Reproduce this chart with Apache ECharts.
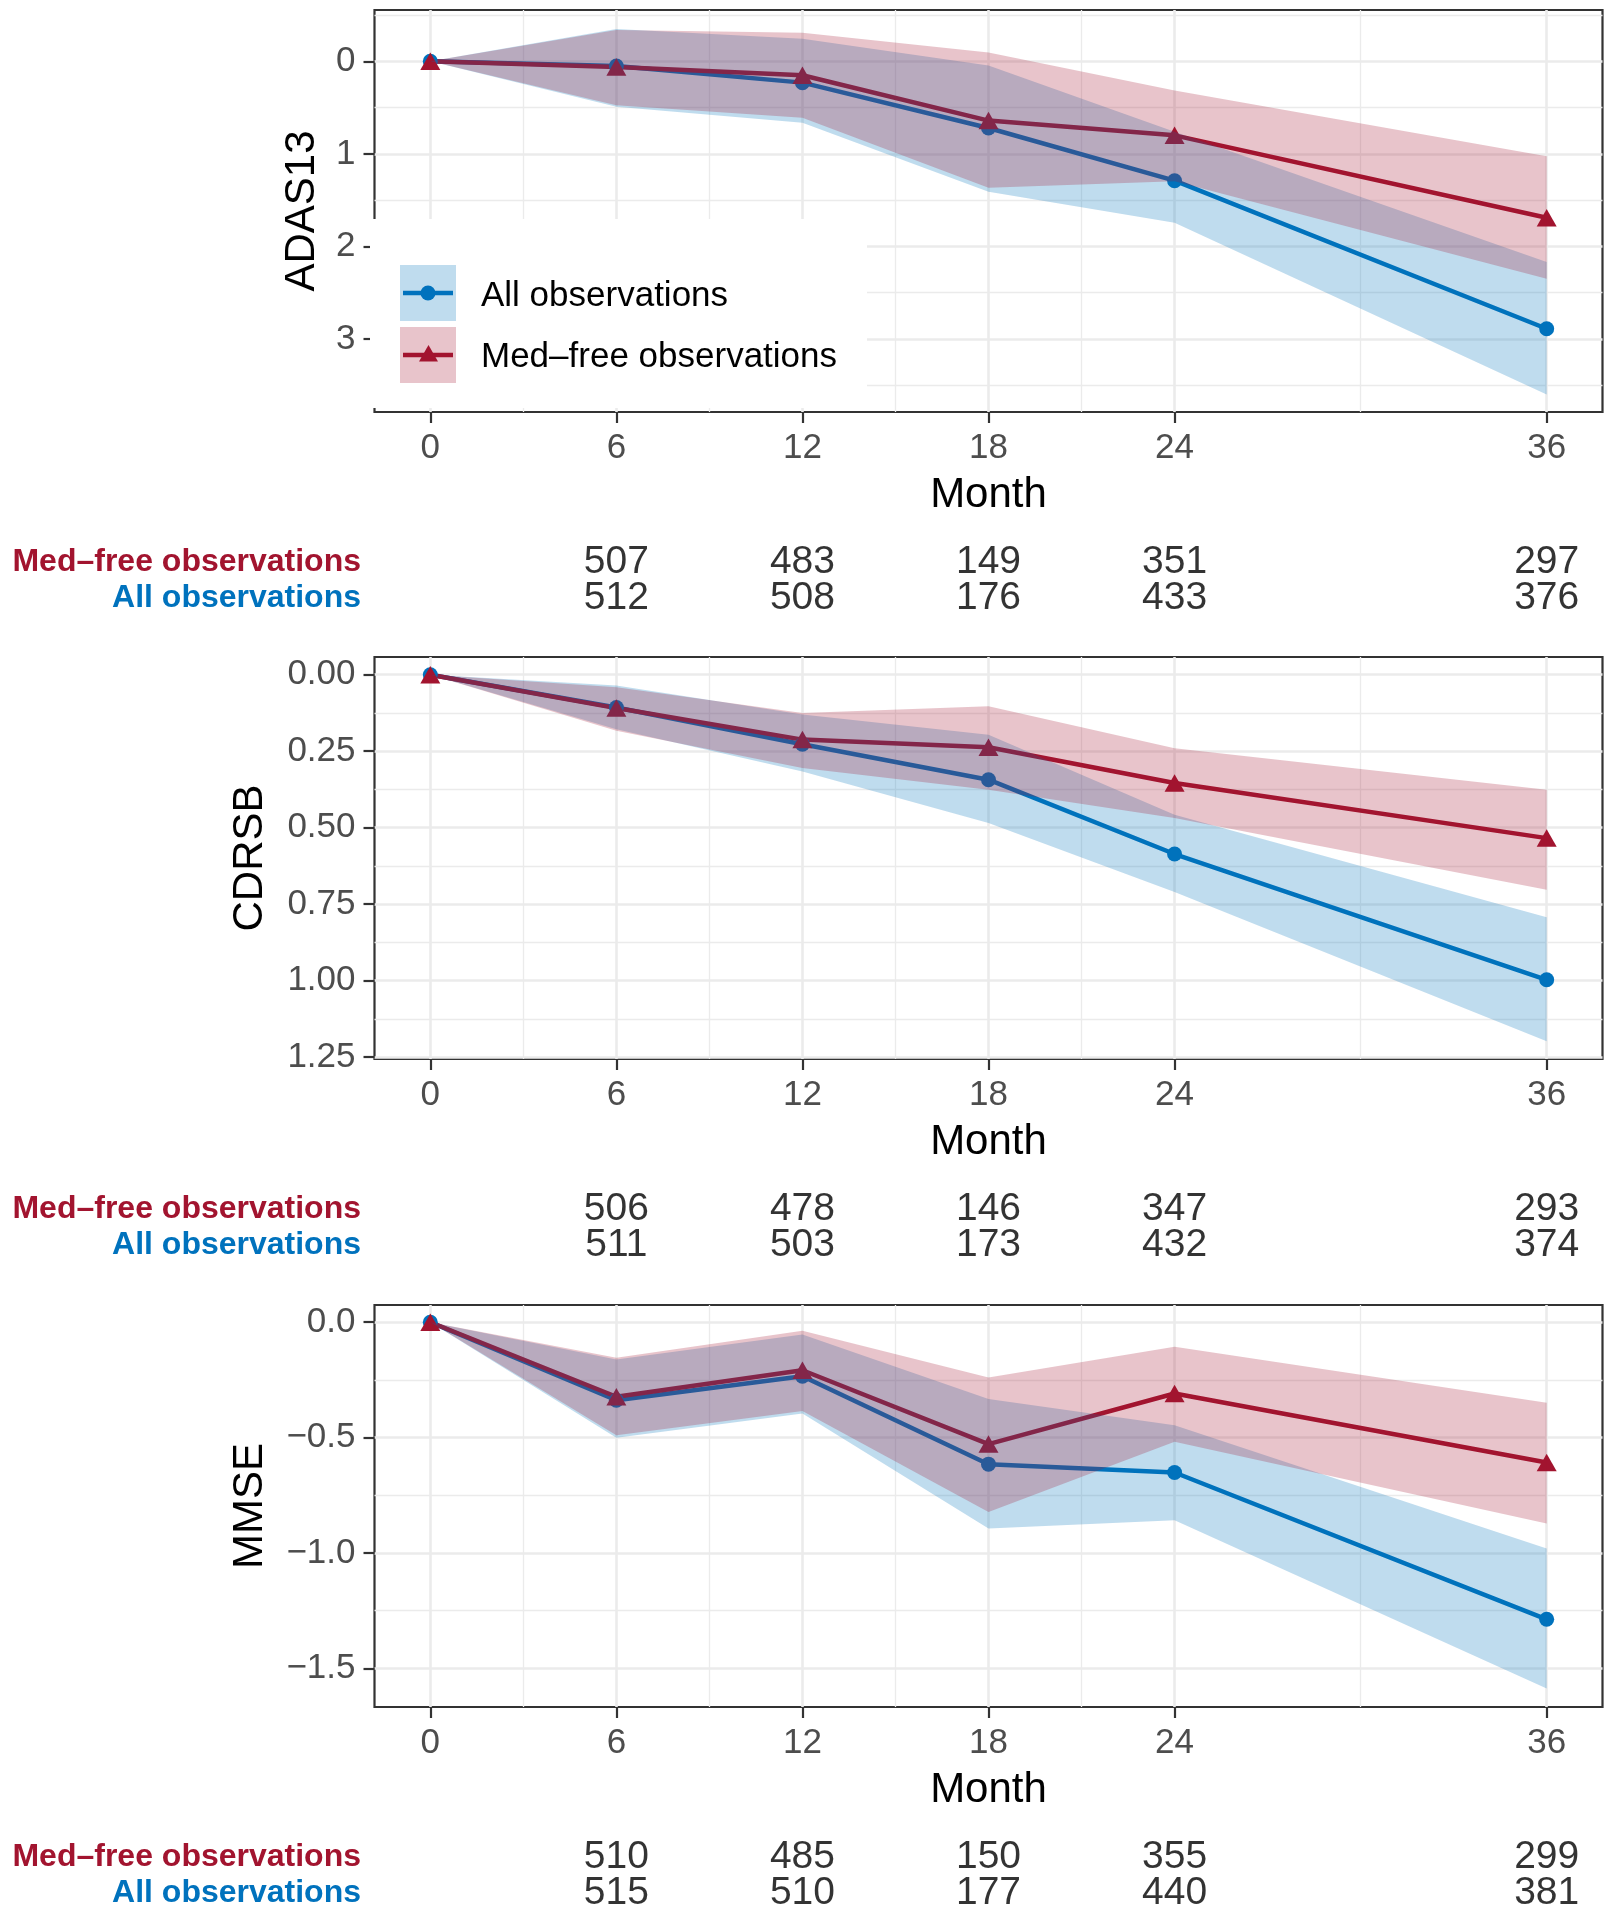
<!DOCTYPE html>
<html>
<head>
<meta charset="utf-8">
<title>Change from baseline by month</title>
<script src="https://cdn.jsdelivr.net/npm/echarts@6/dist/echarts.min.js"></script>
<style>
  html, body { margin: 0; padding: 0; background: #fff; }
  #chart { width: 1615px; height: 1920px; }
</style>
</head>
<body>
<div id="chart"></div>
<script>
// ---- values ----
const months = [0, 6, 12, 18, 24, 36];
const countMonths = [6, 12, 18, 24, 36];
const xTicks = [0, 6, 12, 18, 24, 36];
const xMinorTicks = [3, 9, 15, 21, 30];
const tableRows = ["All observations", "Med\u2013free observations"];

// ADAS13 (axis drawn reversed)
const adasAllMean = [0, 0.05, 0.23, 0.72, 1.29, 2.89];
const adasAllLow  = [0, -0.35, -0.245, 0.045, 0.76, 2.17];
const adasAllHigh = [0, 0.49, 0.665, 1.41, 1.745, 3.60];
const adasMedMean = [0, 0.06, 0.15, 0.64, 0.80, 1.69];
const adasMedLow  = [0, -0.34, -0.31, -0.095, 0.315, 1.025];
const adasMedHigh = [0, 0.475, 0.61, 1.365, 1.295, 2.35];
const adasTicks = [0, 1, 2, 3];
const adasMinorTicks = [-0.5, 0.5, 1.5, 2.5, 3.5];
const adasMedCounts = [507, 483, 149, 351, 297];
const adasAllCounts = [512, 508, 176, 433, 376];

// CDRSB (axis drawn reversed)
const cdrAllMean = [0, 0.107, 0.227, 0.343, 0.586, 0.997];
const cdrAllLow  = [0, 0.035, 0.13, 0.196, 0.458, 0.793];
const cdrAllHigh = [0, 0.178, 0.316, 0.485, 0.71, 1.198];
const cdrMedMean = [0, 0.109, 0.212, 0.237, 0.354, 0.534];
const cdrMedLow  = [0, 0.041, 0.125, 0.103, 0.24, 0.376];
const cdrMedHigh = [0, 0.183, 0.305, 0.376, 0.468, 0.703];
const cdrTicks = [0, 0.25, 0.5, 0.75, 1, 1.25];
const cdrMinorTicks = [0.125, 0.375, 0.625, 0.875, 1.125];
const cdrMedCounts = [506, 478, 146, 347, 293];
const cdrAllCounts = [511, 503, 173, 432, 374];

// MMSE
const mmseAllMean = [0, -0.338, -0.234, -0.615, -0.651, -1.287];
const mmseAllLow  = [0, -0.50, -0.395, -0.894, -0.858, -1.587];
const mmseAllHigh = [0, -0.162, -0.053, -0.333, -0.446, -0.98];
const mmseMedMean = [0, -0.323, -0.208, -0.528, -0.309, -0.608];
const mmseMedLow  = [0, -0.49, -0.385, -0.822, -0.518, -0.872];
const mmseMedHigh = [0, -0.154, -0.037, -0.239, -0.106, -0.349];
const mmseTicks = [0, -0.5, -1, -1.5];
const mmseMinorTicks = [-0.25, -0.75, -1.25];
const mmseMedCounts = [510, 485, 150, 355, 299];
const mmseAllCounts = [515, 510, 177, 440, 381];

// ---- styling ----
const FONT = "Liberation Sans, Arial, Helvetica, sans-serif";
const BLUE = "#0072BD";
const RED = "#A2142F";
const BLUE_FILL = "rgba(0,114,189,0.25)";
const RED_FILL = "rgba(162,20,47,0.25)";
const GRID_COL = "#EBEBEB";
const INK = "#333333";

const PLOT_LEFT = 374.5;
const PLOT_WIDTH = 1228;
const X_MIN = -1.8, X_MAX = 37.8;

const panels = [
  {
    name: "ADAS13", top: 10, min: -0.555, max: 3.79, inverse: true, nameGap: 51,
    ticks: adasTicks, minor: adasMinorTicks, fmt: v => String(v),
    all: [adasAllMean, adasAllLow, adasAllHigh],
    med: [adasMedMean, adasMedLow, adasMedHigh],
    counts: [adasAllCounts, adasMedCounts]
  },
  {
    name: "CDRSB", top: 657, min: -0.058, max: 1.256, inverse: true, nameGap: 103,
    ticks: cdrTicks, minor: cdrMinorTicks, fmt: v => v.toFixed(2),
    all: [cdrAllMean, cdrAllLow, cdrAllHigh],
    med: [cdrMedMean, cdrMedLow, cdrMedHigh],
    counts: [cdrAllCounts, cdrMedCounts]
  },
  {
    name: "MMSE", top: 1305, min: -1.667, max: 0.0746, inverse: false, nameGap: 103,
    ticks: mmseTicks, minor: mmseMinorTicks, fmt: v => (v === 0 ? "0.0" : "\u2212" + Math.abs(v).toFixed(1)),
    all: [mmseAllMean, mmseAllLow, mmseAllHigh],
    med: [mmseMedMean, mmseMedLow, mmseMedHigh],
    counts: [mmseAllCounts, mmseMedCounts]
  }
];
const PANEL_H = 402;

const grids = [], xAxes = [], yAxes = [], series = [];

// ribbon polygon drawn once through the axis scales
function ribbon(low, high, fill, xi, yi) {
  return {
    type: "custom",
    xAxisIndex: xi,
    yAxisIndex: yi,
    silent: true,
    z: 5,
    data: months.map((m, k) => [m, low[k], high[k]]),
    encode: { x: 0, y: [1, 2] },
    renderItem: (params, api) => {
      if (params.dataIndex !== 0) return null;
      const upper = months.map((m, k) => api.coord([m, high[k]]));
      const lower = months.map((m, k) => api.coord([m, low[k]])).reverse();
      return { type: "polygon", shape: { points: upper.concat(lower) }, style: { fill: fill } };
    }
  };
}

function meanLine(mean, color, symbol, size, xi, yi) {
  return {
    type: "line",
    xAxisIndex: xi,
    yAxisIndex: yi,
    z: 3,
    data: months.map((m, k) => [m, mean[k]]),
    symbol: symbol,
    symbolSize: size,
    showSymbol: true,
    lineStyle: { color: color, width: 4.5 },
    itemStyle: { color: color },
    emphasis: { disabled: true }
  };
}

panels.forEach((p, i) => {
  // plot panel
  grids.push({
    left: PLOT_LEFT, width: PLOT_WIDTH, top: p.top, height: PANEL_H,
    show: true, borderColor: INK, borderWidth: 2.2, backgroundColor: "#fff",
    outerBoundsMode: "none", containLabel: false
  });

  xAxes.push({
    type: "value", gridIndex: i, min: X_MIN, max: X_MAX, position: "bottom",
    axisLine: { show: false, onZero: false },
    axisTick: { show: true, length: 11, customValues: xTicks, lineStyle: { color: INK, width: 2.2 } },
    axisLabel: {
      customValues: xTicks, margin: 19, fontSize: 35, lineHeight: 35,
      color: "#4D4D4D", fontFamily: FONT
    },
    splitLine: { show: true, lineStyle: { color: GRID_COL, width: 2.6 } },
    name: "Month", nameLocation: "middle", nameGap: 62, nameMoveOverlap: false,
    nameTextStyle: { fontSize: 42, lineHeight: 42, color: "#000", fontFamily: FONT }
  });
  xAxes.push({
    type: "value", gridIndex: i, min: X_MIN, max: X_MAX,
    axisLine: { show: false, onZero: false },
    axisTick: { show: false, customValues: xMinorTicks },
    axisLabel: { show: false, customValues: xMinorTicks },
    splitLine: { show: true, lineStyle: { color: GRID_COL, width: 1.3 } }
  });

  yAxes.push({
    type: "value", gridIndex: i, min: p.min, max: p.max, inverse: p.inverse, position: "left",
    axisLine: { show: false, onZero: false },
    axisTick: { show: true, length: 11, customValues: p.ticks, lineStyle: { color: INK, width: 2.2 } },
    axisLabel: {
      customValues: p.ticks, margin: 19, fontSize: 35, lineHeight: 35,
      color: "#4D4D4D", fontFamily: FONT, formatter: p.fmt
    },
    splitLine: { show: true, lineStyle: { color: GRID_COL, width: 2.6 } },
    name: p.name, nameLocation: "middle", nameGap: p.nameGap, nameMoveOverlap: false,
    nameTextStyle: { fontSize: 42, lineHeight: 42, color: "#000", fontFamily: FONT }
  });
  yAxes.push({
    type: "value", gridIndex: i, min: p.min, max: p.max, inverse: p.inverse,
    axisLine: { show: false, onZero: false },
    axisTick: { show: false, customValues: p.minor },
    axisLabel: { show: false, customValues: p.minor },
    splitLine: { show: true, lineStyle: { color: GRID_COL, width: 1.3 } }
  });

  const xi = 2 * i, yi = 2 * i;
  // lines first, ribbons on top (as in the original figure)
  series.push(meanLine(p.all[0], BLUE, "circle", 15, xi, yi));
  series.push(meanLine(p.med[0], RED, "triangle", [20, 17.5], xi, yi));
  series.push(ribbon(p.all[1], p.all[2], BLUE_FILL, xi, yi));
  series.push(ribbon(p.med[1], p.med[2], RED_FILL, xi, yi));
});

// ---- count tables under each panel ----
panels.forEach((p, i) => {
  const bottom = p.top + PANEL_H;
  const gi = 3 + i;
  grids.push({
    left: PLOT_LEFT, width: PLOT_WIDTH, top: bottom + 131.5, height: 73,
    show: false, outerBoundsMode: "none", containLabel: false
  });
  xAxes.push({ type: "value", gridIndex: gi, min: X_MIN, max: X_MAX, show: false });
  yAxes.push({
    type: "category", gridIndex: gi, data: tableRows,
    axisLine: { show: false }, axisTick: { show: false }, splitLine: { show: false },
    axisLabel: {
      interval: 0, margin: 13.5, fontSize: 32, fontWeight: "bold", fontFamily: FONT,
      color: v => (v.indexOf("Med") === 0 ? RED : BLUE)
    }
  });

  const rows = [];
  p.counts.forEach((arr, r) => {
    arr.forEach((n, k) => rows.push([countMonths[k], r, n]));
  });
  series.push({
    type: "scatter",
    xAxisIndex: 6 + i,
    yAxisIndex: 6 + i,
    data: rows,
    symbolSize: 1,
    itemStyle: { color: "transparent" },
    silent: true,
    label: {
      show: true, position: "inside", formatter: d => d.value[2],
      fontSize: 39, color: "#000", fontFamily: FONT
    }
  });
});

// ---- legend inside the first panel ----
const legend = [
  { type: "rect", shape: { x: 370, y: 219, width: 497, height: 189 }, style: { fill: "#fff" } },
  { type: "rect", shape: { x: 400, y: 265, width: 56, height: 56 }, style: { fill: BLUE_FILL } },
  { type: "rect", shape: { x: 400, y: 327, width: 56, height: 56 }, style: { fill: RED_FILL } },
  { type: "line", shape: { x1: 403, y1: 293, x2: 453, y2: 293 }, style: { stroke: BLUE, lineWidth: 4.5 } },
  { type: "circle", shape: { cx: 428, cy: 293, r: 7.5 }, style: { fill: BLUE } },
  { type: "line", shape: { x1: 403, y1: 355, x2: 453, y2: 355 }, style: { stroke: RED, lineWidth: 4.5 } },
  { type: "polygon", shape: { points: [[428.5, 345], [438, 361.5], [419, 361.5]] }, style: { fill: RED } },
  { type: "text", x: 481, y: 296, style: { text: tableRows[0], fontSize: 35, fontFamily: FONT, fill: "#000", verticalAlign: "middle" } },
  { type: "text", x: 481, y: 357, style: { text: tableRows[1], fontSize: 35, fontFamily: FONT, fill: "#000", verticalAlign: "middle" } }
].map(el => Object.assign({ z: 100, silent: true }, el));

const chart = echarts.init(document.getElementById("chart"), null, { renderer: "canvas" });
chart.setOption({
  animation: false,
  backgroundColor: "#fff",
  textStyle: { fontFamily: FONT },
  grid: grids,
  xAxis: xAxes,
  yAxis: yAxes,
  series: series,
  graphic: legend
});
window.addEventListener("resize", chart.resize);
</script>
</body>
</html>
